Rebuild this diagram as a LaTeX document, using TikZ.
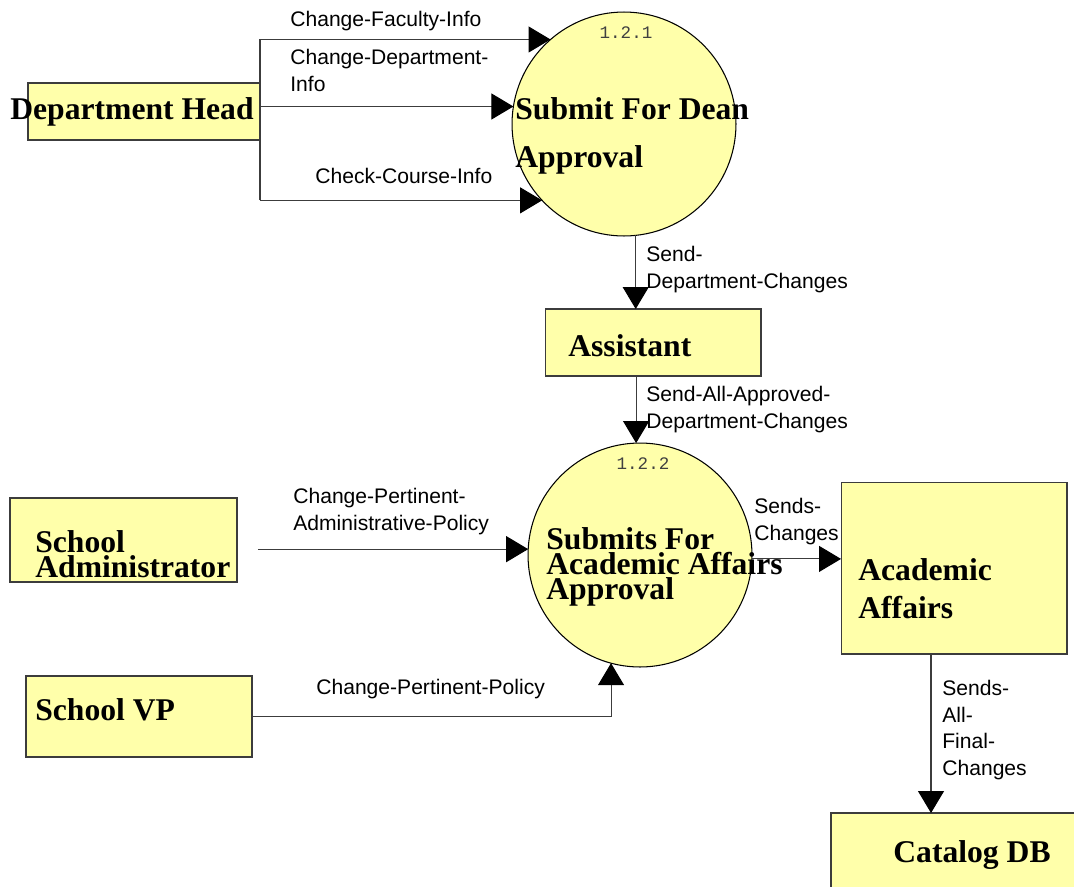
\documentclass[tikz,border=0pt]{standalone}
\usepackage{fontspec}
\setmainfont{Liberation Serif}
\setsansfont{Liberation Sans}
\setmonofont{Liberation Mono}
\usetikzlibrary{arrows.meta, shapes.geometric, positioning, calc}
\definecolor{dfdfill}{RGB}{255,255,170}
\definecolor{dfdline}{RGB}{60,60,60}

\begin{document}
\begin{tikzpicture}[x=0.02cm, y=-0.02cm,
    entity/.style={rectangle, draw=dfdline, fill=dfdfill, line width=0.6pt, inner sep=0pt, outer sep=0pt},
    process/.style={circle, draw=black, fill=dfdfill, line width=0.6pt, minimum size=4.48cm, inner sep=0pt, outer sep=0pt},
    ttl/.style={anchor=base west, inner sep=0pt, align=left, font=\bfseries\fontsize{18}{14}\selectfont},
    lbl/.style={anchor=base west, inner sep=0pt, align=left, font=\sffamily\fontsize{12}{15}\selectfont},
    num/.style={anchor=base, inner sep=0pt, text=black!75, font=\ttfamily\fontsize{10}{12}\selectfont},
    flow/.style={draw=dfdline, line width=0.6pt, -{Triangle[length=0.44cm, width=0.52cm, color=black]}}]
\useasboundingbox (0,0) rectangle (1074,886);
\clip (0,0) rectangle (1074,886);

% external entities
\node[entity, minimum width=4.64cm, minimum height=1.14cm] (dh) at (144,111.5) {};
\node[ttl] (dht) at (10,119) {Department Head};
\node[entity, minimum width=4.32cm, minimum height=1.34cm] (as) at (653,342.5) {};
\node[ttl] (ast) at (568,356) {Assistant};
\node[entity, minimum width=4.54cm, minimum height=1.68cm] (sa) at (123.5,540) {};
\node[ttl] (sat) at (35,577) {School\\Administrator};
\node[entity, minimum width=4.52cm, minimum height=1.62cm] (vp) at (139,716.5) {};
\node[ttl] (vpt) at (35,720) {School VP};
\node[entity, minimum width=4.52cm, minimum height=3.44cm] (aa) at (954,568) {};
\node[ttl, font=\bfseries\fontsize{18}{21.5}\selectfont] (aat) at (858,618) {Academic\\Affairs};
\node[entity, minimum width=5.4cm, minimum height=2cm, anchor=north west] (db) at (831,813) {};
\node[ttl] (dbt) at (893,862) {Catalog DB};

% processes
\node[process] (p1) at (624,124) {};
\node[num] (n1) at (626,38) {1.2.1};
\node[ttl, font=\bfseries\fontsize{18}{27}\selectfont] (p1t) at (515,167) {Submit For Dean\\Approval};
\node[process] (p2) at (640,555) {};
\node[num] (n2) at (643,469) {1.2.2};
\node[ttl] (p2t) at (546,599) {Submits For\\Academic Affairs\\Approval};

% flows
\draw[dfdline, line width=0.6pt] (dh.east |- p1.131) -- (dh.east |- p1.223);
\foreach \a in {131,171,223}
    \draw[flow] (dh.east |- p1.\a) -- (p1.\a);
\node[lbl] (l1) at (290,26) {Change-Faculty-Info};
\node[lbl] (l2) at (290,91) {Change-Department-\\Info};
\node[lbl] (l3) at (315,183) {Check-Course-Info};

\draw[flow] (p1.276) -- (p1.276 |- as.north);
\node[lbl] (l4) at (646,288) {Send-\\Department-Changes};
\draw[flow] (p2.92 |- as.south) -- (p2.92);
\node[lbl] (l5) at (646,428) {Send-All-Approved-\\Department-Changes};

\coordinate (sa-out) at ($(sa.east)+(21,0)$);
\draw[flow] (sa-out |- p2.177) -- (p2.177);
\node[lbl] (l6) at (293,530) {Change-Pertinent-\\Administrative-Policy};
\draw[flow] (vp.east) -| (p2.255);
\node[lbl] (l7) at (316,694) {Change-Pertinent-Policy};

\draw[flow] (p2.358) -- (aa.west |- p2.358);
\node[lbl] (l8) at (754,540) {Sends-\\Changes};
\draw[flow] ([xshift=-0.46cm]aa.south) -- ([xshift=-0.46cm]aa.south |- db.north);
\node[lbl] (l9) at (942,775) {Sends-\\All-\\Final-\\Changes};
\end{tikzpicture}
\end{document}
